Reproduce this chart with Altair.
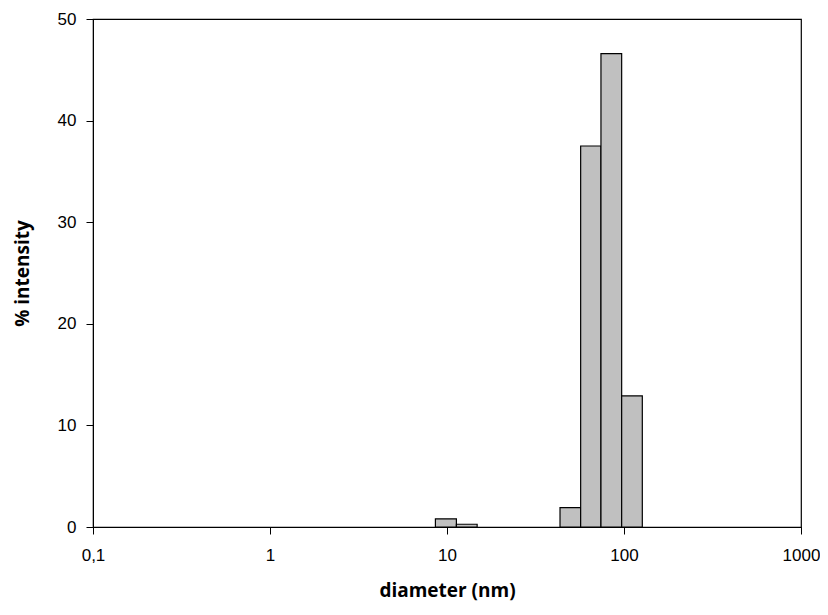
import altair as alt
import pandas as pd

# bin edges (nm) and % intensity
bin_low = [8.6, 11.3, 43.5, 56.9, 74.1, 97.0]
bin_high = [11.3, 14.8, 56.9, 74.1, 97.0, 126.9]
intensity = [0.8, 0.27, 1.9, 37.5, 46.6, 12.9]

x_ticks = [0.1, 1, 10, 100, 1000]
x_tick_labels = ["0,1", "1", "10", "100", "1000"]
y_ticks = [0, 10, 20, 30, 40, 50]

df = pd.DataFrame({"lo": bin_low, "hi": bin_high, "v": intensity, "zero": [0] * len(intensity)})

label_expr = " : ".join(
    f"datum.value == {v} ? '{l}'" for v, l in zip(x_ticks, x_tick_labels)
) + " : ''"

tick_font = "Liberation Sans"
title_font = "Open Sans"

chart = alt.Chart(df).mark_rect(
    fill="#c0c0c0", stroke="black", strokeWidth=1.2
).encode(
    x=alt.X(
        "lo:Q",
        scale=alt.Scale(type="log", domain=[0.1, 1000], nice=False),
        axis=alt.Axis(
            title="diameter (nm)",
            values=x_ticks,
            labelExpr=label_expr,
            grid=False,
            tickSize=7,
            tickColor="black",
            domainColor="black",
            labelFont=tick_font,
            labelFontSize=17,
            labelColor="black",
            labelPadding=13,
            titleFont=title_font,
            titleFontSize=19,
            titleFontWeight="bold",
            titleColor="black",
            titlePadding=18,
            labelFlush=False,
        ),
    ),
    x2="hi:Q",
    y=alt.Y(
        "v:Q",
        scale=alt.Scale(domain=[0, 50], nice=False),
        axis=alt.Axis(
            title="% intensity",
            values=y_ticks,
            grid=False,
            tickSize=7,
            tickColor="black",
            domainColor="black",
            labelFont=tick_font,
            labelFontSize=17,
            labelColor="black",
            labelPadding=10,
            titleFont=title_font,
            titleFontSize=19,
            titleFontWeight="bold",
            titleColor="black",
            titlePadding=25,
        ),
    ),
    y2="zero:Q",
).properties(
    width=708,
    height=508,
    background="white",
    autosize=alt.AutoSizeParams(type="none"),
    padding={"left": 85, "top": 11, "right": 19, "bottom": 76},
).configure_view(
    stroke="black", strokeWidth=1.2
)

chart.save("out.html", embed_options={"renderer": "svg", "actions": False})
